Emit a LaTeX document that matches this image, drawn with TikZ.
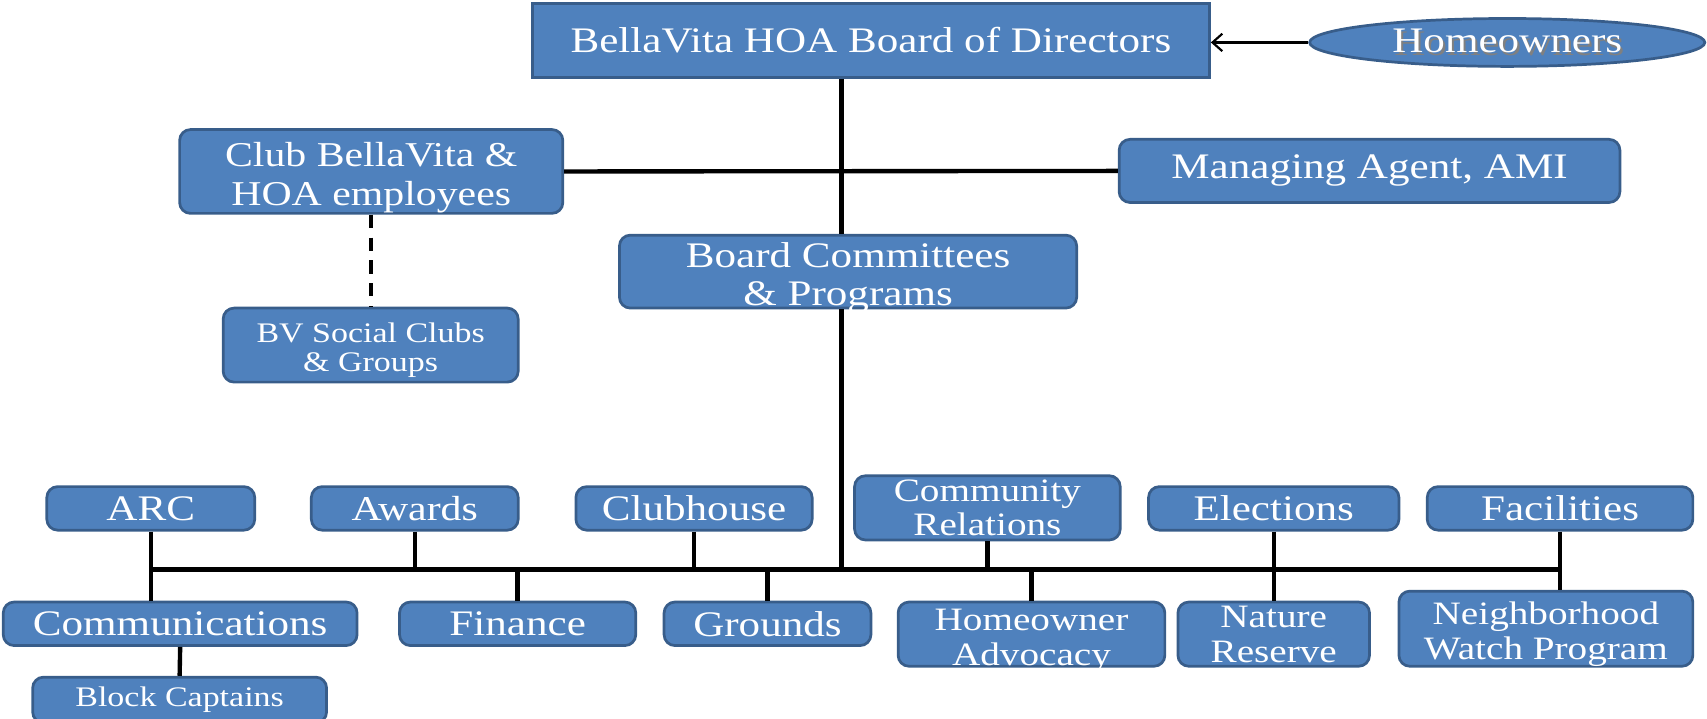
\documentclass[tikz,border=0pt]{standalone}
\usepackage{fontspec}
\setmainfont{Liberation Serif}[FakeStretch=1.2]
\usetikzlibrary{arrows.meta,shapes.geometric}

\definecolor{boxblue}{HTML}{4F81BD}
\definecolor{boxedge}{HTML}{385D8A}
\definecolor{shadowgray}{HTML}{808080}

% pushes two-line texts a little down in their boxes
\newcommand{\topgap}{\rule{0pt}{1.05em}}

\tikzset{
  orgbox/.style={draw=boxedge, fill=boxblue, line width=2.5pt, rounded corners=10pt,
    text=white, align=center, inner xsep=0pt, inner ysep=-10pt},
  bigtext/.style={font=\fontsize{33}{35}\selectfont},
  midtext/.style={font=\fontsize{30}{32}\selectfont},
  smalltext/.style={font=\fontsize{26}{27}\selectfont},
  link/.style={line width=4pt},
}

\begin{document}
\begin{tikzpicture}[x=1pt,y=-1pt]
\useasboundingbox (0,0) rectangle (1568,660);

% top
\node[orgbox, bigtext, rounded corners=0pt, minimum width=622pt, minimum height=68pt] (board) at (800,37) {BellaVita HOA Board of Directors};
\node[orgbox, bigtext, ellipse, inner ysep=0pt, minimum width=363pt, minimum height=44pt] (home) at (1384.5,39)
  {\rlap{\hspace{2pt}\raisebox{-2pt}{\textcolor{shadowgray}{Homeowners}}}Homeowners};
\node[orgbox, font=\fontsize{32}{36}\selectfont, minimum width=352pt, minimum height=77pt] (club) at (341,157.5) {\topgap Club BellaVita \&\\HOA employees};
\node[orgbox, bigtext, minimum width=460pt, minimum height=58pt] (agent) at (1258,157) {Managing Agent, AMI};
\node[orgbox, bigtext, minimum width=420pt, minimum height=67pt] (committees) at (779,249.5) {\topgap Board Committees\\\& Programs};
\node[orgbox, smalltext, minimum width=271pt, minimum height=68pt] (social) at (340.5,317) {\topgap BV Social Clubs\\\& Groups};

% committee row
\node[orgbox, bigtext, minimum width=191pt, minimum height=40pt] (arc) at (138.5,467) {ARC};
\node[orgbox, font=\fontsize{32}{34}\selectfont, minimum width=190pt, minimum height=40pt] (awards) at (381,467) {Awards};
\node[orgbox, bigtext, minimum width=217pt, minimum height=40pt] (clubhouse) at (637.5,467) {Clubhouse};
\node[orgbox, midtext, minimum width=244pt, minimum height=59pt] (community) at (907,466.5) {Community\\Relations};
\node[orgbox, bigtext, minimum width=230pt, minimum height=40pt] (elections) at (1170,467) {Elections};
\node[orgbox, bigtext, minimum width=244pt, minimum height=40pt] (facilities) at (1433,467) {Facilities};

% program row
\node[orgbox, bigtext, minimum width=325pt, minimum height=40pt] (communications) at (165.5,573) {Communications};
\node[orgbox, smalltext, minimum width=270pt, minimum height=42pt] (block) at (165,643) {Block Captains};
\node[orgbox, bigtext, minimum width=217pt, minimum height=40pt] (finance) at (475.5,573) {Finance};
\node[orgbox, bigtext, minimum width=190pt, minimum height=40pt] (grounds) at (705,573) {Grounds};
\node[orgbox, midtext, minimum width=245pt, minimum height=59pt] (advocacy) at (947.5,582.5) {\topgap Homeowner\\Advocacy};
\node[orgbox, midtext, minimum width=176pt, minimum height=59pt] (nature) at (1170,582.5) {Nature\\Reserve};
\node[orgbox, midtext, minimum width=270pt, minimum height=69pt] (watch) at (1420,577.5) {\topgap Neighborhood\\Watch Program};

\coordinate (trunk) at (773,0);
\coordinate (bus) at (0,523);

% connectors
\draw[line width=2pt, -{Straight Barb[length=9pt,width=16pt,line width=2pt]}] (home.west) -- (board.east |- home.west);
\draw[link] (board.south -| trunk) -- (committees.north -| trunk);
\draw[link] (club.east) -- (agent.west);
\draw[link, dash pattern=on 12pt off 9pt] (club.south) -- (club.south |- social.north);
\draw[link] (committees.south -| trunk) -- (trunk |- bus);
\draw[link] (arc.south |- bus) -- (facilities.south |- bus);
\draw[link] (arc.south) -- (arc.south |- communications.north);
\draw[link] (awards.south) -- (awards.south |- bus);
\draw[link] (clubhouse.south) -- (clubhouse.south |- bus);
\draw[link] (community.south) -- (community.south |- bus);
\draw[link] (elections.south) -- (nature.north);
\draw[link] (facilities.south) -- (facilities.south |- watch.north);
\draw[link] (finance.north) -- (finance.north |- bus);
\draw[link] (grounds.north) -- (grounds.north |- bus);
\draw[link] (advocacy.north) -- (advocacy.north |- bus);
\draw[link] (communications.south) -- (block.north);

\end{tikzpicture}
\end{document}
